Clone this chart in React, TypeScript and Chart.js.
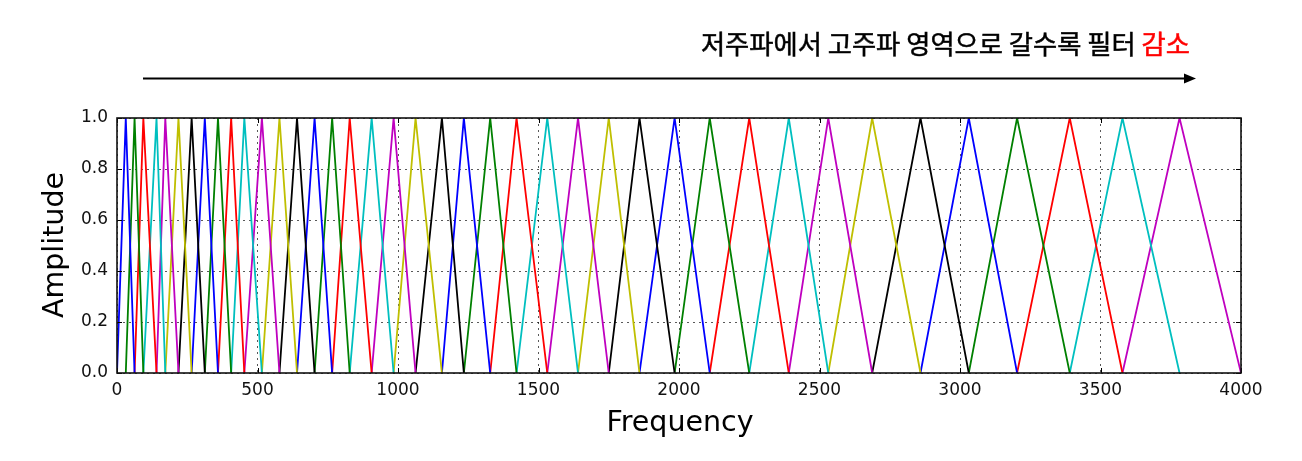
import React, { useEffect, useRef } from "react";
import { Chart, registerables } from "chart.js";

Chart.register(...registerables);

// Filter edge / centre frequencies (Hz) (40 triangular filters, 42 edges)
const FILTER_EDGES_HZ = [
  0, 31.25, 62.5, 93.75, 140.625, 171.875, 218.75, 265.625, 312.5, 359.375,
  406.25, 453.125, 515.625, 578.125, 640.625, 703.125, 765.625, 828.125, 906.25, 984.375,
  1062.5, 1156.25, 1234.375, 1328.125, 1421.875, 1531.25, 1640.625, 1750, 1859.375, 1984.375,
  2109.375, 2250, 2390.625, 2531.25, 2687.5, 2859.375, 3031.25, 3203.125, 3390.625, 3578.125,
  3781.25, 4000,
];
const FILTER_COLORS = ["#0000ff", "#008000", "#ff0000", "#00bfbf", "#bf00bf", "#bfbf00", "#000000"];
const X_TICKS = [0, 500, 1000, 1500, 2000, 2500, 3000, 3500, 4000];
const Y_TICKS = [0, 0.2, 0.4, 0.6, 0.8, 1.0];
const TITLE_BLACK = "저주파에서 고주파 영역으로 갈수록 필터 ";
const TITLE_RED = "감소";
const X_LABEL = "Frequency";
const Y_LABEL = "Amplitude";

const FONT = "'DejaVu Sans', sans-serif";
const KR_FONT = "'Noto Sans CJK KR', 'Noto Sans', sans-serif";

const decorPlugin = {
  id: "decor",
  afterDraw(chart: any) {
    const ctx = chart.ctx;
    const { left, right, top, bottom } = chart.chartArea;
    const xs = chart.scales.x;
    const ys = chart.scales.y;
    ctx.save();
    // inward ticks
    ctx.strokeStyle = "#000";
    ctx.lineWidth = 1;
    const tl = 5;
    ctx.beginPath();
    for (const v of X_TICKS) {
      const px = Math.round(xs.getPixelForValue(v)) + 0.5;
      ctx.moveTo(px, bottom); ctx.lineTo(px, bottom - tl);
      ctx.moveTo(px, top); ctx.lineTo(px, top + tl);
    }
    for (const v of Y_TICKS) {
      const py = Math.round(ys.getPixelForValue(v)) + 0.5;
      ctx.moveTo(left, py); ctx.lineTo(left + tl, py);
      ctx.moveTo(right, py); ctx.lineTo(right - tl, py);
    }
    ctx.stroke();
    // box
    ctx.lineWidth = 1.6;
    ctx.strokeStyle = "#111";
    ctx.strokeRect(left, top, right - left, bottom - top);

    // axis labels
    ctx.fillStyle = "#000";
    ctx.font = `28.5px ${FONT}`;
    ctx.textAlign = "center";
    ctx.textBaseline = "alphabetic";
    ctx.fillText(X_LABEL, 680, 431);
    ctx.save();
    ctx.translate(63, 245);
    ctx.rotate(-Math.PI / 2);
    ctx.fillText(Y_LABEL, 0, 0);
    ctx.restore();

    // title text
    ctx.font = `26.3px ${KR_FONT}`;
    ctx.textBaseline = "alphabetic";
    ctx.textAlign = "left";
    const endX = 1190;
    const wRed = ctx.measureText(TITLE_RED).width;
    const wBlack = ctx.measureText(TITLE_BLACK).width;
    ctx.fillStyle = "#ff0000";
    ctx.fillText(TITLE_RED, endX - wRed, 54);
    ctx.fillStyle = "#000";
    ctx.fillText(TITLE_BLACK, endX - wRed - wBlack, 54);
    // slight embolden to mimic heavier glyphs
    ctx.lineWidth = 0.5;
    ctx.strokeStyle = "#ff0000";
    ctx.strokeText(TITLE_RED, endX - wRed, 54);
    ctx.strokeStyle = "#000";
    ctx.strokeText(TITLE_BLACK, endX - wRed - wBlack, 54);

    // arrow
    ctx.strokeStyle = "#000";
    ctx.lineWidth = 2.2;
    ctx.beginPath();
    ctx.moveTo(143, 78.5);
    ctx.lineTo(1186, 78.5);
    ctx.stroke();
    ctx.fillStyle = "#000";
    ctx.beginPath();
    ctx.moveTo(1196, 78.5);
    ctx.lineTo(1184, 73.5);
    ctx.lineTo(1184, 83.5);
    ctx.closePath();
    ctx.fill();
    ctx.restore();
  },
};

export default function App() {
  const ref = useRef<HTMLCanvasElement>(null);
  useEffect(() => {
    if (!ref.current) return;
    const datasets = [];
    for (let i = 1; i < FILTER_EDGES_HZ.length - 1; i++) {
      const c = FILTER_COLORS[(i - 1) % FILTER_COLORS.length];
      datasets.push({
        data: [
          { x: FILTER_EDGES_HZ[i - 1], y: 0 },
          { x: FILTER_EDGES_HZ[i], y: 1 },
          { x: FILTER_EDGES_HZ[i + 1], y: 0 },
        ],
        borderColor: c,
        backgroundColor: c,
        borderWidth: 1.8,
        pointRadius: 0,
        tension: 0,
        fill: false,
      });
    }
    const gridCommon = {
      color: "rgba(0,0,0,0.65)",
      lineWidth: 1,
      drawTicks: false,
    };
    const chart = new Chart(ref.current, {
      type: "line",
      data: { datasets },
      options: {
        animation: false,
        responsive: true,
        maintainAspectRatio: false,
        layout: { padding: { top: 118, right: 61, left: 0, bottom: 0 } },
        plugins: { legend: { display: false }, tooltip: { enabled: false }, title: { display: false } },
        scales: {
          x: {
            type: "linear",
            min: 0,
            max: 4000,
            afterBuildTicks: (s: any) => { s.ticks = X_TICKS.map((v) => ({ value: v })); },
            afterFit: (s: any) => { s.height = 88; },
            ticks: { font: { family: FONT, size: 17 }, color: "#111", padding: 7, maxRotation: 0, callback: (v: any) => String(v) },
            grid: gridCommon,
            border: { display: false, dash: [2, 4] },
          },
          y: {
            type: "linear",
            min: 0,
            max: 1,
            afterBuildTicks: (s: any) => { s.ticks = Y_TICKS.map((v) => ({ value: v })); },
            afterFit: (s: any) => { s.width = 117; },
            ticks: { font: { family: FONT, size: 17 }, color: "#111", padding: 9, callback: (v: any) => Number(v).toFixed(1) },
            grid: gridCommon,
            border: { display: false, dash: [2, 4] },
          },
        },
      },
      plugins: [decorPlugin],
    });
    return () => chart.destroy();
  }, []);
  return (
    <div style={{ position: "absolute", left: 0, top: 0, width: 1302, height: 461, background: "#fff" }}>
      <canvas ref={ref} />
    </div>
  );
}
